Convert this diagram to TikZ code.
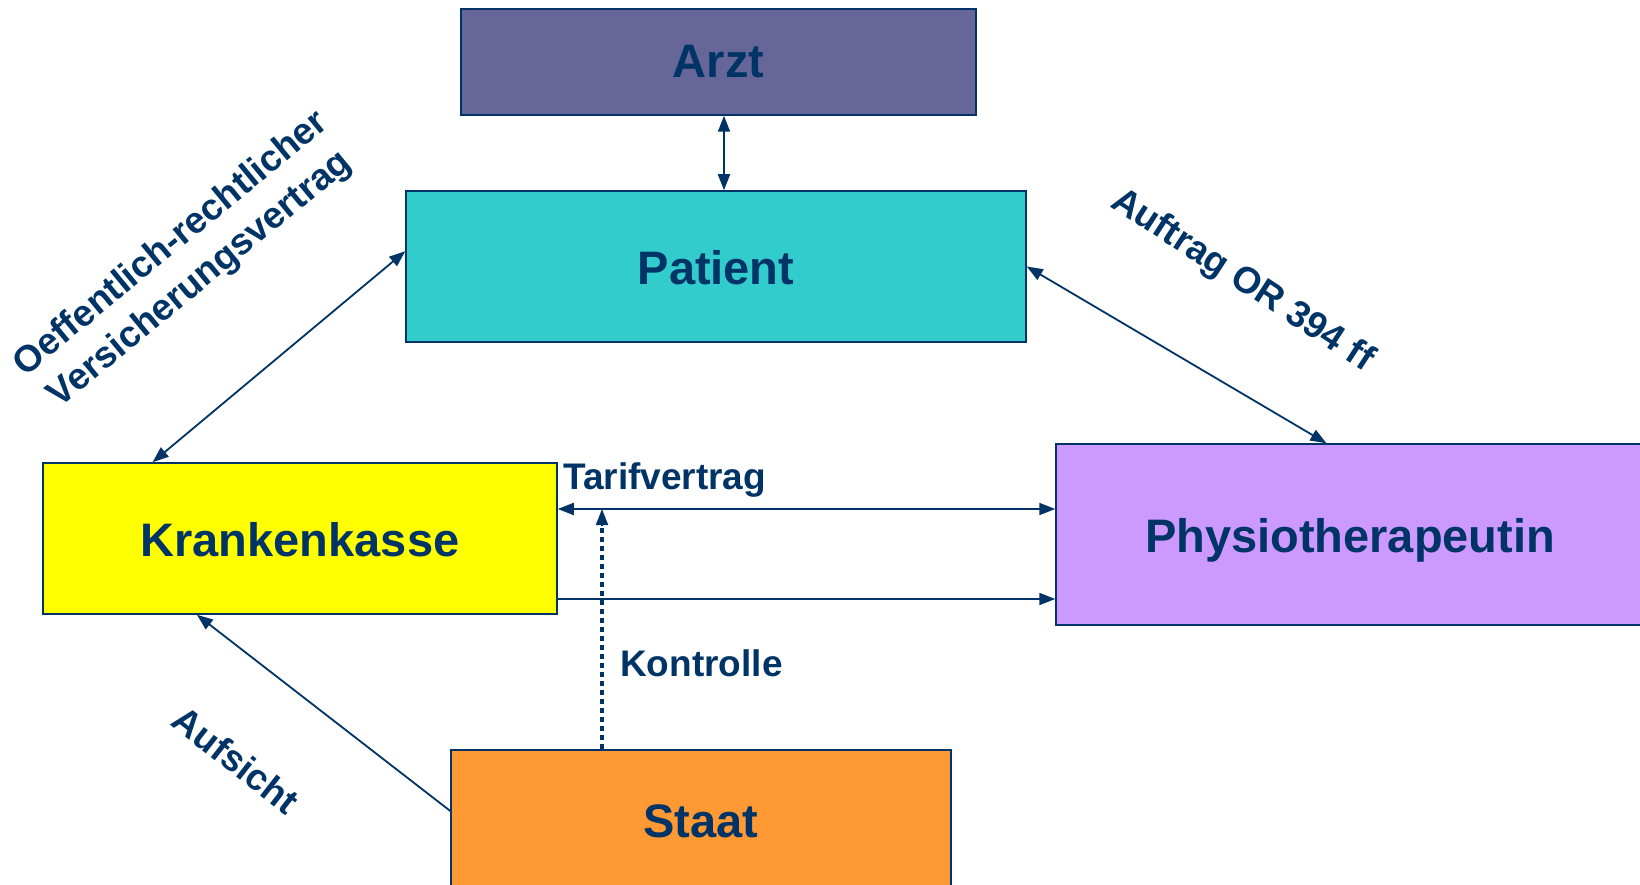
\documentclass[tikz,border=0pt]{standalone}
\usepackage{fontspec}
\setmainfont{Liberation Sans}
\usetikzlibrary{arrows.meta,calc}
\definecolor{navy}{RGB}{0,51,102}
\definecolor{arztc}{RGB}{102,102,153}
\definecolor{patc}{RGB}{51,204,204}
\definecolor{kkc}{RGB}{255,255,0}
\definecolor{physc}{RGB}{204,153,255}
\definecolor{staatc}{RGB}{255,153,51}
\begin{document}
\begin{tikzpicture}[x=1pt,y=-1pt,
  box/.style={draw=navy, line width=1.5pt, inner sep=0pt,
    font=\fontsize{47}{56}\selectfont\bfseries, text=navy},
  lbl/.style={font=\fontsize{37}{46}\selectfont\bfseries, text=navy, inner sep=0pt, align=center},
  conn/.style={draw=navy, line width=1.8pt},
  tipend/.style={-{Triangle[length=16pt,width=12pt]}},
  tipboth/.style={{Triangle[length=16pt,width=12pt]}-{Triangle[length=16pt,width=12pt]}},
  dotline/.style={draw=navy, line width=3.5pt, dash pattern=on 5pt off 4pt}]
\useasboundingbox (0,0) rectangle (1640,885);

\node[box, fill=arztc, minimum width=515pt, minimum height=106pt] (arzt) at (718.5,62) {Arzt};
\node[box, fill=patc, minimum width=620pt, minimum height=151pt] (patient) at (716,266.5) {\raisebox{-1pt}[\height][\depth]{Patient}};
\node[box, fill=kkc, minimum width=514pt, minimum height=151pt] (kk) at (300,538.5) {\raisebox{-1pt}[\height][\depth]{Krankenkasse}};
\node[box, fill=physc, minimum width=588pt, minimum height=181pt] (physio) at (1350,534.5) {\raisebox{-6pt}[\height][\depth]{Physiotherapeutin}};
\node[box, fill=staatc, minimum width=500pt, minimum height=142pt] (staat) at (701,821) {Staat};

\coordinate (ax) at (724,0);
\coordinate (ty) at (0,509);
\coordinate (ly) at (0,599);
\coordinate (kx) at (602,509);

% Arzt - Patient
\draw[conn, tipboth] (arzt.south -| ax) -- (patient.north -| ax);
% Patient - Krankenkasse
\draw[conn, tipboth] ($(patient.north west)!0.4!(patient.south west)$) -- ($(kk.north west)!0.214!(kk.north east)$);
% Patient - Physio
\draw[conn, tipboth] (patient.east) -- ($(physio.north west)!0.46!(physio.north east)$);
% Tarifvertrag
\draw[conn, tipboth] (kk.east |- ty) -- (physio.west |- ty);
% lower arrow
\draw[conn, tipend] (kk.east |- ly) -- (physio.west |- ly);
% Kontrolle
\draw[dotline] (staat.north -| kx) -- ($(kx)+(0,14)$);
\draw[conn, tipend] ($(kx)+(0,17)$) -- (kx);
% Aufsicht
\draw[conn, tipend] ($(staat.north west)!0.43!(staat.south west)$) -- ($(kk.south west)!0.3!(kk.south east)$);

% labels
\node[lbl, anchor=base west] (ltarif) at (563,489) {Tarifvertrag};
\node[lbl, anchor=base west] (lkontr) at (620,676) {Kontrolle};
\node[lbl, rotate=39.5] (loeff) at (186,262) {Oeffentlich-rechtlicher\\Versicherungsvertrag};
\node[lbl, rotate=-33] (lauftr) at (1242,281) {Auftrag OR 394 ff};
\node[lbl, rotate=-38] (lauf) at (236,760) {Aufsicht};
\end{tikzpicture}
\end{document}
